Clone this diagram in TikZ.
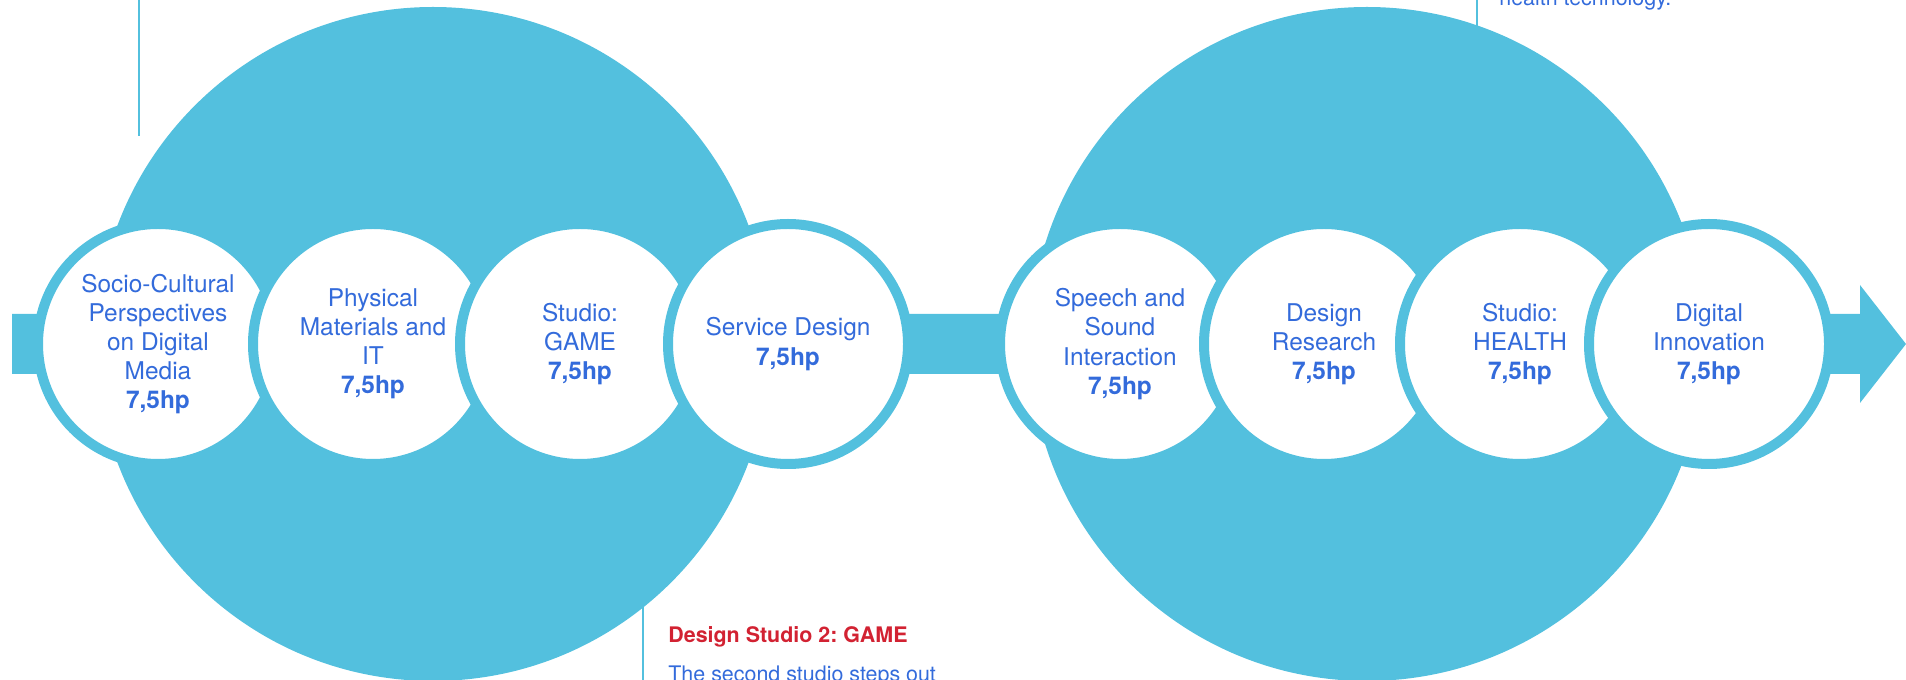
\documentclass[tikz,border=0pt]{standalone}
\usepackage{fontspec}
\setmainfont{TeX Gyre Heros}
\frenchspacing
\definecolor{sky}{RGB}{83,192,222}
\definecolor{txtblue}{RGB}{51,107,219}
\definecolor{studiored}{RGB}{210,34,50}

\begin{document}
\begin{tikzpicture}[
  course/.style={circle, draw=sky, line width=2mm, fill=white, minimum size=4.8cm, inner sep=0pt,
    text=txtblue, align=center, font=\fontsize{13.9}{16.6}\selectfont},
  callout/.style={draw=sky, line width=0.4mm},
  note/.style={anchor=base west, inner sep=0pt, text=txtblue, font=\fontsize{12.2}{14}\selectfont}
]

%grid help
% \draw[gray, very thin] (0,-7) grid (39,7);

\useasboundingbox (0,-6.72) rectangle (38.12,6.88);

% Band with the arrow head on the right
\fill[sky] (0.24,0.6) -- (37.2,0.6) -- (37.2,1.18) -- (38.12,0)
           -- (37.2,-1.18) -- (37.2,-0.6) -- (0.24,-0.6) -- cycle;

% Year one and year two
\fill[sky] (8.66,0) circle (6.74);
\fill[sky] (27.34,0) circle (6.74);

% Callout lines
\coordinate (topA) at (2.78,6.88);
\coordinate (topAend) at (2.78,4.16);
\coordinate (topB) at (29.54,6.88);
\coordinate (topBend) at (29.54,6.2);
\coordinate (botA) at (12.86,-5.0);
\coordinate (botAend) at (12.86,-6.72);
\draw[callout] (topA) -- (topAend);
\draw[callout] (topB) -- (topBend);
\draw[callout] (botA) -- (botAend);

% Courses, first year
\node[course] (socio) at (3.16,0) {Socio-Cultural\\Perspectives\\on Digital\\Media\\\textbf{7,5hp}};
\node[course] (physical) at (7.46,0) {Physical\\Materials and\\IT\\\textbf{7,5hp}};
\node[course] (game) at (11.6,0) {Studio:\\GAME\\\textbf{7,5hp}};
\node[course] (service) at (15.76,0) {Service Design\\\textbf{7,5hp}};

% Courses, second year
\node[course] (speech) at (22.4,0) {Speech and\\Sound\\Interaction\\\textbf{7,5hp}};
\node[course] (research) at (26.48,0) {Design\\Research\\\textbf{7,5hp}};
\node[course] (health) at (30.4,0) {Studio:\\HEALTH\\\textbf{7,5hp}};
\node[course] (innovation) at (34.18,0) {Digital\\Innovation\\\textbf{7,5hp}};

% Studio notes
\node[note, text=studiored, font=\bfseries\fontsize{12.2}{14}\selectfont] (gametitle) at (13.36,-5.98) {Design Studio 2: GAME};
\node[note] (gametext) at (13.36,-6.76) {The second studio steps out};
\node[note] (healthtext) at (29.98,6.77) {health technology.};

\end{tikzpicture}
\end{document}
